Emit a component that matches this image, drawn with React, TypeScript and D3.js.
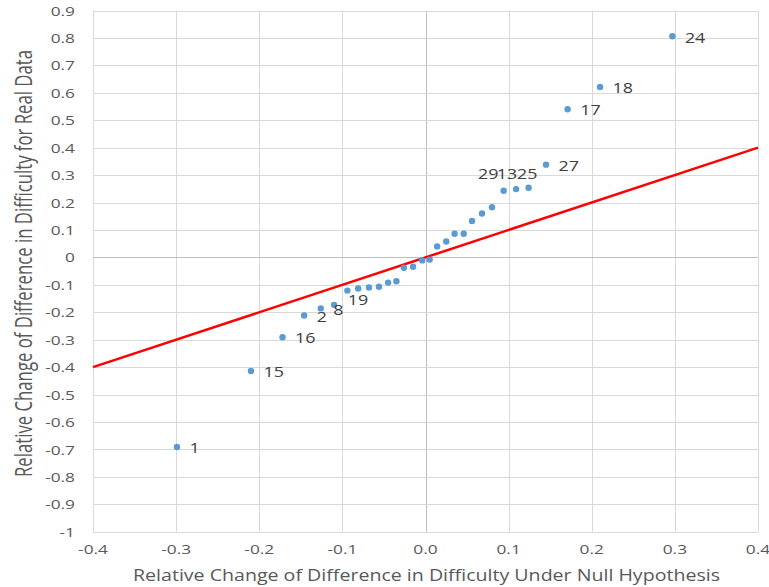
import React from "react";
import * as d3 from "d3";

// ---- data ----
const xValues = [
  -0.299, -0.21, -0.172, -0.146, -0.126, -0.11, -0.094, -0.081, -0.068, -0.056,
  -0.045, -0.035, -0.026, -0.015, -0.004, 0.005, 0.014, 0.025, 0.035, 0.046,
  0.056, 0.068, 0.08, 0.094, 0.109, 0.124, 0.145, 0.171, 0.21, 0.297,
];
const yValues = [
  -0.691, -0.414, -0.291, -0.212, -0.186, -0.173, -0.121, -0.113, -0.11, -0.107,
  -0.092, -0.087, -0.038, -0.034, -0.011, -0.008, 0.04, 0.058, 0.086, 0.086,
  0.133, 0.16, 0.183, 0.243, 0.249, 0.254, 0.338, 0.54, 0.621, 0.806,
];
const pointLabels = [
  "1", "15", "16", "2", "8", "19", "", "", "", "",
  "", "", "", "", "", "", "", "", "", "",
  "", "", "", "29", "13", "25", "27", "17", "18", "24",
];
const refLineX = [-0.4, 0.4];
const refLineY = [-0.4, 0.4];
const xTicks = [-0.4, -0.3, -0.2, -0.1, 0, 0.1, 0.2, 0.3, 0.4];
const yTicks = [0.9, 0.8, 0.7, 0.6, 0.5, 0.4, 0.3, 0.2, 0.1, 0, -0.1, -0.2, -0.3, -0.4, -0.5, -0.6, -0.7, -0.8, -0.9, -1];
const xTitle = "Relative Change of Difference  in Difficulty Under Null Hypothesis";
const yTitle = "Relative Change of Difference in Difficulty for Real Data";

// label placement nudges (pixels) for manually moved labels
const labelNudge: Record<string, [number, number]> = {
  "19": [13.8, -5.5],
  "29": [-25.6, -16.7],
  "13": [-19.3, -15.5],
  "25": [-11.5, -14],
};

const W = 769;
const H = 587;
const FONT = "'Open Sans', 'DejaVu Sans', sans-serif";

export default function App() {
  const x = d3.scaleLinear().domain([-0.4, 0.4]).range([93, 758]);
  const y = d3.scaleLinear().domain([-1, 0.9]).range([531.7, 10.5]);

  const line = d3
    .line<number>()
    .x((_, i) => x(refLineX[i]))
    .y((_, i) => y(refLineY[i]));

  const fmtY = (v: number) => (Math.abs(v) < 1e-9 ? "0" : String(+v.toFixed(1)));
  const fmtX = (v: number) => (Math.abs(v) < 1e-9 ? "0.0" : v.toFixed(1));

  return (
    <svg
      width={W}
      height={H}
      style={{ position: "absolute", left: 0, top: 0, background: "#fff" }}
      fontFamily={FONT}
    >
      <rect x={0} y={0} width={W} height={H} fill="#fff" />
      {/* grid */}
      {xTicks.map((t) => (
        <line
          key={"gx" + t}
          x1={Math.round(x(t)) + 0.5}
          x2={Math.round(x(t)) + 0.5}
          y1={y(0.9)}
          y2={y(-1)}
          stroke={Math.abs(t) < 1e-9 ? "#bfbfbf" : "#d9d9d9"}
          strokeWidth={1}
        />
      ))}
      {yTicks.map((t) => (
        <line
          key={"gy" + t}
          x1={x(-0.4)}
          x2={x(0.4)}
          y1={Math.round(y(t)) + 0.5}
          y2={Math.round(y(t)) + 0.5}
          stroke={Math.abs(t) < 1e-9 ? "#bfbfbf" : "#d9d9d9"}
          strokeWidth={1}
        />
      ))}
      {/* y tick labels */}
      {yTicks.map((t) => (
        <text
          key={"ty" + t}
          transform={`translate(75,${y(t)}) scale(1.33,1)`}
          textAnchor="end"
          dominantBaseline="central"
          fontSize={13}
          fill="#595959"
        >
          {fmtY(t)}
        </text>
      ))}
      {/* x tick labels */}
      {xTicks.map((t) => (
        <text
          key={"tx" + t}
          transform={`translate(${x(t)},549) scale(1.33,1)`}
          textAnchor="middle"
          dominantBaseline="central"
          fontSize={13}
          fill="#595959"
        >
          {fmtX(t)}
        </text>
      ))}
      {/* reference line */}
      <path d={line(refLineX) || ""} stroke="#ff0000" strokeWidth={2.5} fill="none" />
      {/* points */}
      {xValues.map((v, i) => (
        <circle key={"p" + i} cx={x(v)} cy={y(yValues[i])} r={3.2} fill="#5b9bd5" />
      ))}
      {/* point labels */}
      {xValues.map((v, i) => {
        const lab = pointLabels[i];
        if (!lab) return null;
        const [dx, dy] = labelNudge[lab] || [12.5, 1];
        return (
          <text
            key={"l" + i}
            transform={`translate(${x(v) + dx},${y(yValues[i]) + dy}) scale(1.28,1)`}
            textAnchor="start"
            dominantBaseline="central"
            fontSize={14}
            fill="#404040"
          >
            {lab}
          </text>
        );
      })}
      {/* axis titles */}
      <text
        x={426.5}
        y={581}
        textAnchor="middle"
        fontSize={16}
        fill="#595959"
        textLength={587}
        lengthAdjust="spacingAndGlyphs"
      >
        {xTitle}
      </text>
      <text
        transform={`translate(32,263.5) scale(1.3,1) rotate(-90)`}
        textAnchor="middle"
        fontSize={18}
        fill="#595959"
        textLength={427}
        lengthAdjust="spacingAndGlyphs"
      >
        {yTitle}
      </text>
    </svg>
  );
}
